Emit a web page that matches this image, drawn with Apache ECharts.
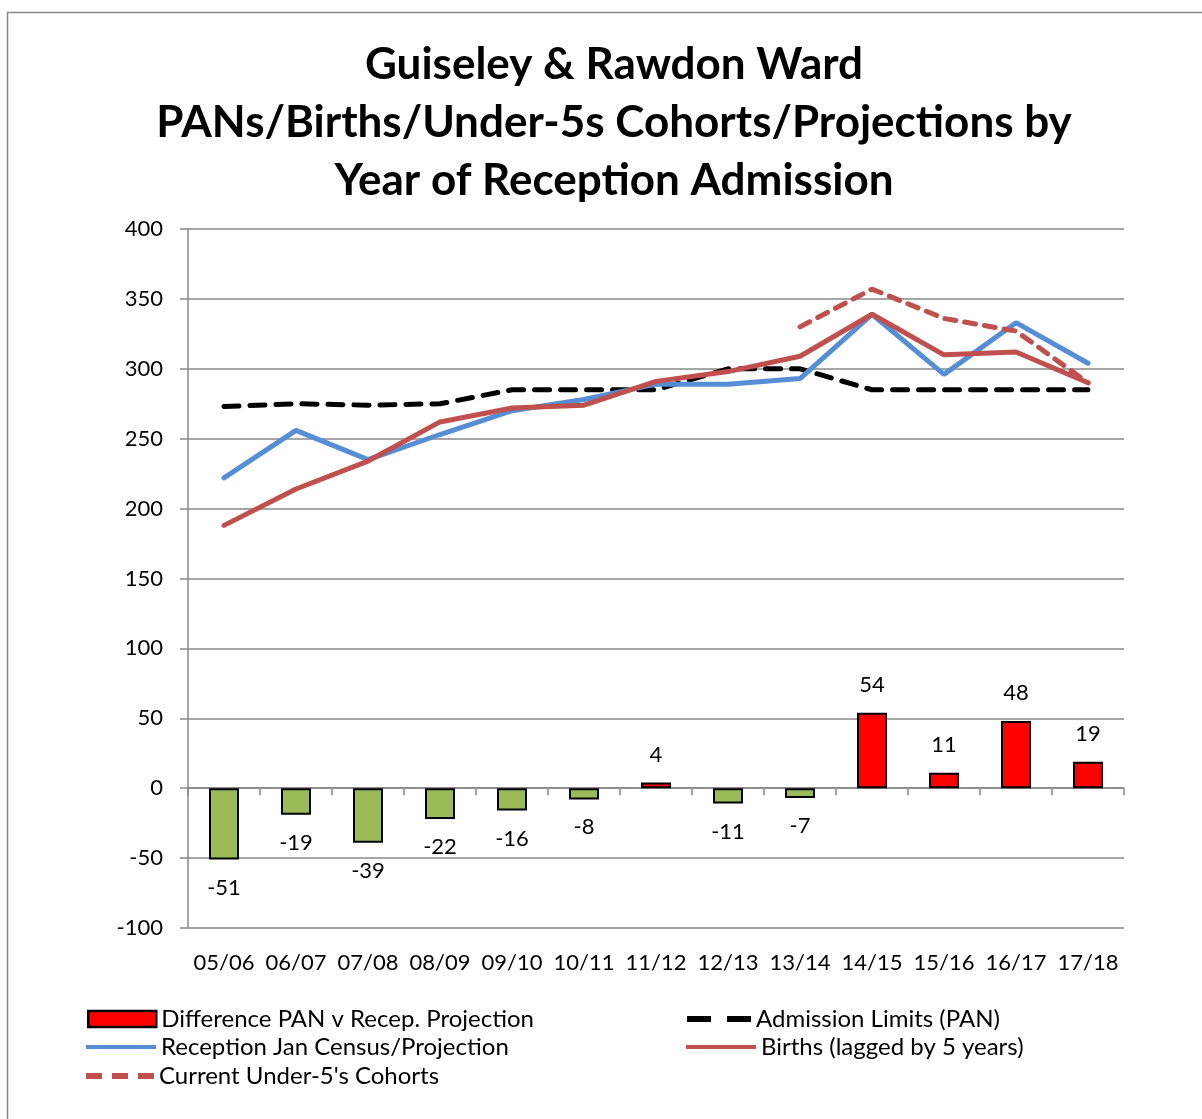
<!DOCTYPE html>
<html>
<head>
<meta charset="utf-8">
<script src="https://cdn.jsdelivr.net/npm/echarts@6/dist/echarts.min.js"></script>
<style>
  html, body { margin: 0; padding: 0; background: #fff; }
  #main { width: 1202px; height: 1119px; }
</style>
</head>
<body>
<div id="main"></div>
<script>
var years = ['05/06', '06/07', '07/08', '08/09', '09/10', '10/11', '11/12', '12/13', '13/14', '14/15', '15/16', '16/17', '17/18'];
var difference = [-51, -19, -39, -22, -16, -8, 4, -11, -7, 54, 11, 48, 19];
var pan = [273, 275, 274, 275, 285, 285, 285, 300, 300, 285, 285, 285, 285];
var reception = [222, 256, 235, 253, 270, 278, 289, 289, 293, 339, 296, 333, 304];
var births = [188, 214, 234, 262, 272, 274, 291, 298, 309, 339, 310, 312, 290];
var cohorts = [null, null, null, null, null, null, null, null, 330, 357, 336, 327, 290];

var dom = document.getElementById('main');
var myChart = echarts.init(dom, null, { renderer: 'canvas' });
var font = 'Lato, "Open Sans", sans-serif';
var grey = '#888888';

// one legend per entry so each can sit where the original puts it
function legendItem(name, left, centerY, icon, w, h, color) {
  return {
    left: left,
    top: centerY - 16,
    itemWidth: w,
    itemHeight: h,
    itemGap: 6,
    textStyle: { fontFamily: font, fontSize: 24, lineHeight: 24, color: '#000' },
    data: [{ name: name, icon: icon, itemStyle: color }]
  };
}

var option = {
  animation: false,
  backgroundColor: '#fff',
  textStyle: { fontFamily: font, color: '#000' },
  graphic: [{
    type: 'rect',
    shape: { x: 7.5, y: 12.5, width: 1300, height: 1200 },
    style: { fill: 'none', stroke: grey, lineWidth: 1.5 },
    silent: true
  }],
  title: {
    text: 'Guiseley & Rawdon Ward\nPANs/Births/Under-5s Cohorts/Projections by\nYear of Reception Admission',
    left: 609,
    top: 31,
    textAlign: 'center',
    textStyle: { fontFamily: font, fontSize: 44, fontWeight: 'bold', lineHeight: 58, color: '#000' }
  },
  legend: [
    legendItem('Difference PAN v Recep. Projection', 82, 1018, 'rect', 68, 16,
      { color: '#FF0000', borderColor: '#000', borderWidth: 2.5 }),
    legendItem('Admission Limits (PAN)', 682, 1018,
      'path://M0,0h24v6h-24z M40,0h24v6h-24z', 64, 6, { color: '#000', borderWidth: 0 }),
    legendItem('Reception Jan Census/Projection', 81, 1046, 'rect', 70, 4,
      { color: '#558ED5', borderWidth: 0 }),
    legendItem('Births (lagged by 5 years)', 681, 1046, 'rect', 70, 4,
      { color: '#C0504D', borderWidth: 0 }),
    legendItem("Current Under-5's Cohorts", 81, 1075,
      'path://M0,0h16v6h-16z M26,0h16v6h-16z M52,0h16v6h-16z', 68, 6, { color: '#C0504D', borderWidth: 0 })
  ],
  grid: { left: 188, right: 78, top: 229, bottom: 191 },
  xAxis: [{
    type: 'category',
    data: years,
    position: 'top',
    axisLine: { onZero: true, lineStyle: { color: grey, width: 1.5 } },
    axisTick: { show: true, inside: true, length: 7, lineStyle: { color: grey, width: 1.5 } },
    axisLabel: { show: false }
  }, {
    type: 'category',
    data: years,
    position: 'bottom',
    axisLine: { show: false, onZero: false },
    axisTick: { show: false },
    axisLabel: { fontFamily: font, fontSize: 22, color: '#000', margin: 24, interval: 0 }
  }],
  yAxis: {
    type: 'value',
    min: -100,
    max: 400,
    interval: 50,
    axisLine: { show: true, lineStyle: { color: grey, width: 1.5 } },
    axisTick: { show: true, length: 8, lineStyle: { color: grey, width: 1.5 } },
    axisLabel: { fontFamily: font, fontSize: 22, color: '#000', margin: 25 },
    splitLine: { lineStyle: { color: grey, width: 1.5 } }
  },
  series: [{
    name: 'Difference PAN v Recep. Projection',
    type: 'bar',
    barWidth: 30,
    // negative bars carry their labels below the bar end
    data: difference.map(function (v) {
      return v < 0 ? { value: v, label: { position: 'bottom' } } : v;
    }),
    itemStyle: {
      borderColor: '#000',
      borderWidth: 2,
      color: function (p) { return p.value < 0 ? '#9BBB59' : '#FF0000'; }
    },
    label: {
      show: true,
      position: 'top',
      distance: 17,
      fontFamily: font,
      fontSize: 22,
      color: '#000'
    }
  }, {
    name: 'Admission Limits (PAN)',
    type: 'line',
    data: pan,
    symbol: 'none',
    z: 3,
    lineStyle: { color: '#000', width: 5, type: [15, 11], cap: 'round' },
    itemStyle: { color: '#000' }
  }, {
    name: 'Reception Jan Census/Projection',
    type: 'line',
    data: reception,
    symbol: 'none',
    z: 4,
    lineStyle: { color: '#558ED5', width: 5, cap: 'round' },
    itemStyle: { color: '#558ED5' }
  }, {
    name: 'Births (lagged by 5 years)',
    type: 'line',
    data: births,
    symbol: 'none',
    z: 5,
    lineStyle: { color: '#C0504D', width: 5, cap: 'round' },
    itemStyle: { color: '#C0504D' }
  }, {
    name: "Current Under-5's Cohorts",
    type: 'line',
    data: cohorts,
    symbol: 'none',
    z: 6,
    lineStyle: { color: '#C0504D', width: 5, type: [11, 9], cap: 'round' },
    itemStyle: { color: '#C0504D' }
  }]
};

if (option && typeof option === 'object') {
  myChart.setOption(option);
}
window.addEventListener('resize', myChart.resize);
</script>
</body>
</html>
